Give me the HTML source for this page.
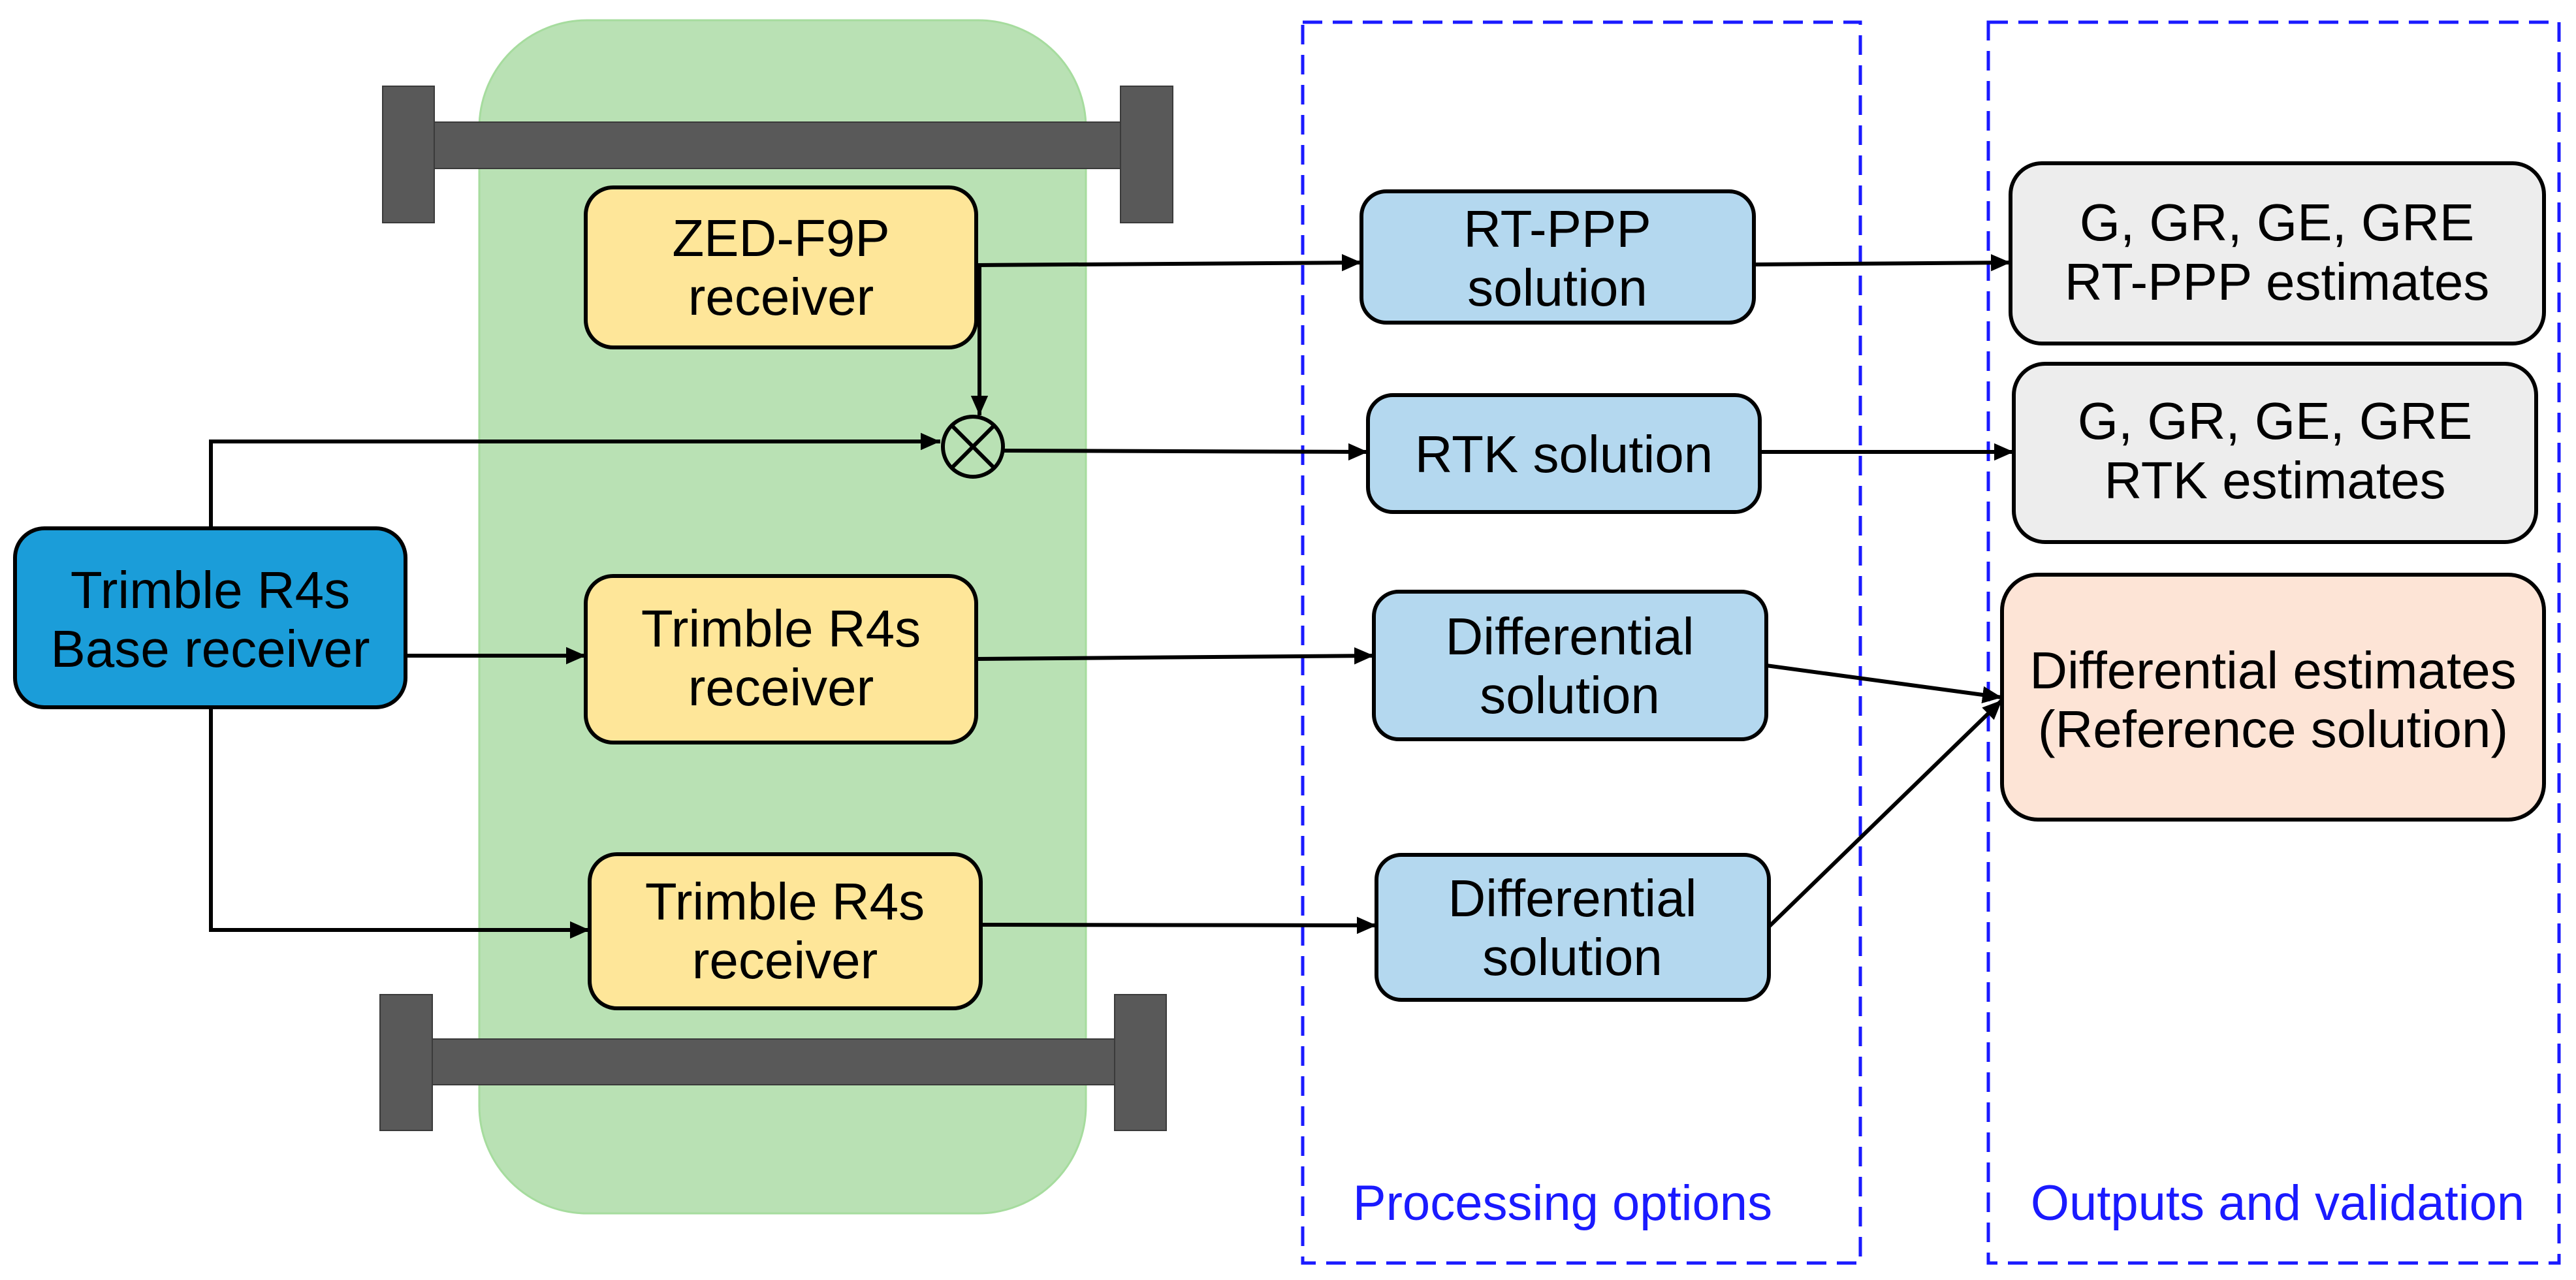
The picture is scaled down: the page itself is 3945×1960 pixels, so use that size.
<!DOCTYPE html>
<html><head><meta charset="utf-8"><style>html,body{margin:0;padding:0;background:#fff}svg{display:block}</style></head>
<body>
<svg width="3945" height="1960" viewBox="0 0 3945 1960" xmlns="http://www.w3.org/2000/svg" font-family="Liberation Sans, Arial, sans-serif">
<defs>
<marker id="a" markerWidth="6" markerHeight="6" refX="5" refY="3" orient="auto" markerUnits="strokeWidth"><path d="M0,0.8 L5,3 L0,5.2 z" fill="#000"/></marker>
</defs>
<rect x="734" y="31" width="929" height="1827" rx="165" fill="#b9e1b4" stroke="#a6dc9e" stroke-width="3"/>
<g fill="#595959" stroke="#3a3a3a" stroke-width="2">
<rect x="665" y="187" width="1051" height="71"/>
<rect x="586" y="132" width="79" height="209"/>
<rect x="1716" y="132" width="80" height="209"/>
<rect x="662" y="1591" width="1045" height="70"/>
<rect x="582" y="1523" width="80" height="208"/>
<rect x="1707" y="1523" width="79" height="208"/>
</g>
<g fill="none" stroke="#1a1aff" stroke-width="5" stroke-dasharray="30,16">
<rect x="1995" y="34" width="854" height="1900"/>
<rect x="3045" y="34" width="874" height="1900"/>
</g>
<g stroke="#000" stroke-width="6" fill="none">
<polyline points="1495,406 2085,402" marker-end="url(#a)"/>
<polyline points="1500,406 1500,636" marker-end="url(#a)"/>
<polyline points="323,809 323,676 1440,676" marker-end="url(#a)"/>
<polyline points="1537,690 2095,692" marker-end="url(#a)"/>
<polyline points="621,1004 897,1004" marker-end="url(#a)"/>
<polyline points="1495,1009 2104,1004" marker-end="url(#a)"/>
<polyline points="323,1083 323,1424 903,1424" marker-end="url(#a)"/>
<polyline points="1502,1416 2108,1417" marker-end="url(#a)"/>
<polyline points="2686,405 3079,402" marker-end="url(#a)"/>
<polyline points="2695,692 3084,692" marker-end="url(#a)"/>
<polyline points="2705,1019 3066,1068" marker-end="url(#a)"/>
<polyline points="2709,1419 3066,1072" marker-end="url(#a)"/>
</g>
<circle cx="1490" cy="684" r="46" fill="#b9e1b4" stroke="#000" stroke-width="6"/>
<line x1="1457" y1="651" x2="1523" y2="717" stroke="#000" stroke-width="6"/>
<line x1="1523" y1="651" x2="1457" y2="717" stroke="#000" stroke-width="6"/>
<g stroke="#000" stroke-width="6">
<rect x="23" y="809" width="598" height="274" rx="45" fill="#1b9dd9"/>
<rect x="897" y="287" width="598" height="245" rx="42" fill="#fee699"/>
<rect x="897" y="882" width="598" height="255" rx="42" fill="#fee699"/>
<rect x="903" y="1308" width="599" height="236" rx="42" fill="#fee699"/>
<rect x="2085" y="293" width="601" height="201" rx="38" fill="#b4d8ef"/>
<rect x="2095" y="605" width="600" height="179" rx="38" fill="#b4d8ef"/>
<rect x="2104" y="906" width="601" height="226" rx="38" fill="#b4d8ef"/>
<rect x="2108" y="1309" width="601" height="222" rx="38" fill="#b4d8ef"/>
<rect x="3079" y="250" width="817" height="276" rx="48" fill="#ededed"/>
<rect x="3084" y="557" width="800" height="273" rx="48" fill="#ededed"/>
<rect x="3066" y="880" width="830" height="375" rx="55" fill="#fde4d6"/>
</g>
<g font-size="80" fill="#000" text-anchor="middle">
<text x="322" y="931">Trimble R4s</text><text x="322" y="1021">Base receiver</text>
<text x="1196" y="392">ZED-F9P</text><text x="1196" y="482">receiver</text>
<text x="1196" y="990">Trimble R4s</text><text x="1196" y="1080">receiver</text>
<text x="1202" y="1408">Trimble R4s</text><text x="1202" y="1498">receiver</text>
<text x="2385" y="378">RT-PPP</text><text x="2385" y="468">solution</text>
<text x="2395" y="723">RTK solution</text>
<text x="2404" y="1002">Differential</text><text x="2404" y="1092">solution</text>
<text x="2408" y="1403">Differential</text><text x="2408" y="1493">solution</text>
<text x="3487" y="368">G, GR, GE, GRE</text><text x="3487" y="459">RT-PPP estimates</text>
<text x="3484" y="672">G, GR, GE, GRE</text><text x="3484" y="763">RTK estimates</text>
<text x="3481" y="1054">Differential estimates</text><text x="3481" y="1144">(Reference solution)</text>
</g>
<g font-size="76" fill="#1a1aff" text-anchor="middle">
<text x="2393" y="1868">Processing options</text>
<text x="3488" y="1868">Outputs and validation</text>
</g>
</svg>
</body></html>
